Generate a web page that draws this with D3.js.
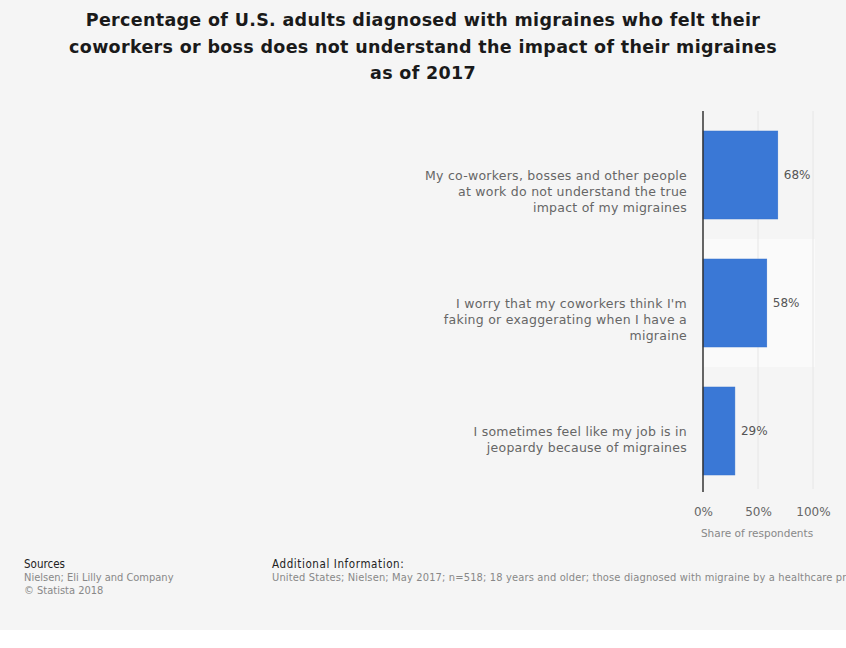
<!DOCTYPE html>
<html>
<head>
<meta charset="utf-8">
<script src="https://cdn.jsdelivr.net/npm/d3@7"></script>
<style>
  body { margin: 0; background: #fff; }
  svg { display: block; }
</style>
</head>
<body>
<div class="chart"></div>
<script>
// Data
const categories = [
    "My co-workers, bosses and other people|at work do not understand the true|impact of my migraines",
    "I worry that my coworkers think I'm|faking or exaggerating when I have a|migraine",
    "I sometimes feel like my job is in|jeopardy because of migraines"
];
const values = [68, 58, 29];
const xTicks = [0, 50, 100];
const titleLines = [
    "Percentage of U.S. adults diagnosed with migraines who felt their",
    "coworkers or boss does not understand the impact of their migraines",
    "as of 2017"
];

function createChart() {
    const W = 846, H = 648;
    const plot = { left: 703, right: 813, top: 111, bottom: 495 };

    const svg = d3.select("div.chart").append("svg")
        .attr("width", W)
        .attr("height", H);

    // bakgrund
    svg.append("rect").attr("width", W).attr("height", 630).attr("fill", "#f5f5f5");

    // Rubrik
    svg.append("g").selectAll("text")
        .data(titleLines)
        .enter().append("text")
        .attr("x", 423)
        .attr("y", (d, i) => 26 + i * 26.5)
        .attr("text-anchor", "middle")
        .style("font-family", "DejaVu Sans")
        .style("font-weight", "bold")
        .style("font-size", "17.5px")
        .style("letter-spacing", "0.32px")
        .attr("fill", "#1a1a1a")
        .text(d => d);

    // Skalor
    const x = d3.scaleLinear().domain([0, 100]).range([plot.left, plot.right]);
    const y = d3.scaleBand()
        .domain(categories)
        .range([plot.top, plot.bottom])
        .paddingInner(0.3125)
        .paddingOuter(0.15625);

    // Randad rad
    const step = y.step();
    svg.append("rect")
        .attr("x", plot.left)
        .attr("y", plot.top + step)
        .attr("width", plot.right - plot.left + 2)
        .attr("height", step)
        .attr("fill", "#fafafa");

    // Rutnät
    svg.append("g").selectAll("line")
        .data(xTicks.slice(1))
        .enter().append("line")
        .attr("x1", d => x(d)).attr("x2", d => x(d))
        .attr("y1", plot.top).attr("y2", plot.bottom - 6)
        .attr("stroke", "#e6e6e6")
        .attr("stroke-width", 1);

    // Staplar
    svg.selectAll(".bar")
        .data(values)
        .enter().append("rect")
        .attr("class", "bar")
        .attr("x", x(0))
        .attr("y", (d, i) => y(categories[i]))
        .attr("width", d => x(d) - x(0))
        .attr("height", y.bandwidth())
        .attr("fill", "#3a78d6")
        .attr("stroke", "#3470cc")
        .attr("stroke-width", 0.5);

    // Axellinje
    svg.append("line")
        .attr("x1", x(0)).attr("x2", x(0))
        .attr("y1", plot.top).attr("y2", plot.bottom - 3)
        .attr("stroke", "#333")
        .attr("stroke-width", 1.5);

    // Värden
    svg.selectAll(".value-label")
        .data(values)
        .enter().append("text")
        .attr("x", d => x(d) + 6)
        .attr("y", (d, i) => y(categories[i]) + y.bandwidth() / 2 + 4)
        .style("font-family", "DejaVu Sans")
        .style("font-size", "12px")
        .attr("fill", "#555")
        .text(d => d + "%");

    // Kategorier (första raden i höjd med stapelns mitt)
    const cat = svg.append("g").selectAll("text")
        .data(categories)
        .enter().append("text")
        .attr("text-anchor", "end")
        .style("font-family", "DejaVu Sans")
        .style("font-size", "12.5px")
        .style("letter-spacing", "0.25px")
        .attr("fill", "#666")
        .attr("transform", d => `translate(687,${y(d) + y.bandwidth() / 2 + 4.5})`);
    cat.selectAll("tspan")
        .data(d => d.split("|"))
        .enter().append("tspan")
        .attr("x", 0)
        .attr("dy", (d, i) => i === 0 ? 0 : 16)
        .text(d => d);

    // X-axel
    const axis = svg.append("g")
        .attr("transform", `translate(0,${plot.bottom + 9})`)
        .call(d3.axisBottom(x).tickValues(xTicks).tickFormat(d => d + "%").tickSize(0));
    axis.select(".domain").remove();
    axis.selectAll("text")
        .style("font-family", "DejaVu Sans")
        .style("font-size", "12px")
        .attr("fill", "#666");

    svg.append("text")
        .attr("x", 757)
        .attr("y", 537)
        .attr("text-anchor", "middle")
        .style("font-family", "DejaVu Sans")
        .style("font-size", "10.5px")
        .attr("fill", "#888")
        .text("Share of respondents");

    // Fotnoter
    const foot = svg.append("g")
        .style("font-family", "DejaVu Sans Condensed")
        .style("font-size", "11px");
    foot.append("text").attr("x", 24).attr("y", 568).attr("fill", "#222").style("font-size", "11.5px").text("Sources");
    foot.append("text").attr("x", 24).attr("y", 581).attr("fill", "#888").text("Nielsen; Eli Lilly and Company");
    foot.append("text").attr("x", 24).attr("y", 594).attr("fill", "#888").text("© Statista 2018");
    foot.append("text").attr("x", 272).attr("y", 568).attr("fill", "#222").style("font-size", "11.5px").style("letter-spacing", "0.6px").text("Additional Information:");
    foot.append("text").attr("x", 272).attr("y", 581).attr("fill", "#888").style("letter-spacing", "0.15px")
        .text("United States; Nielsen; May 2017; n=518; 18 years and older; those diagnosed with migraine by a healthcare professional");
}

createChart();
</script>
</body>
</html>
